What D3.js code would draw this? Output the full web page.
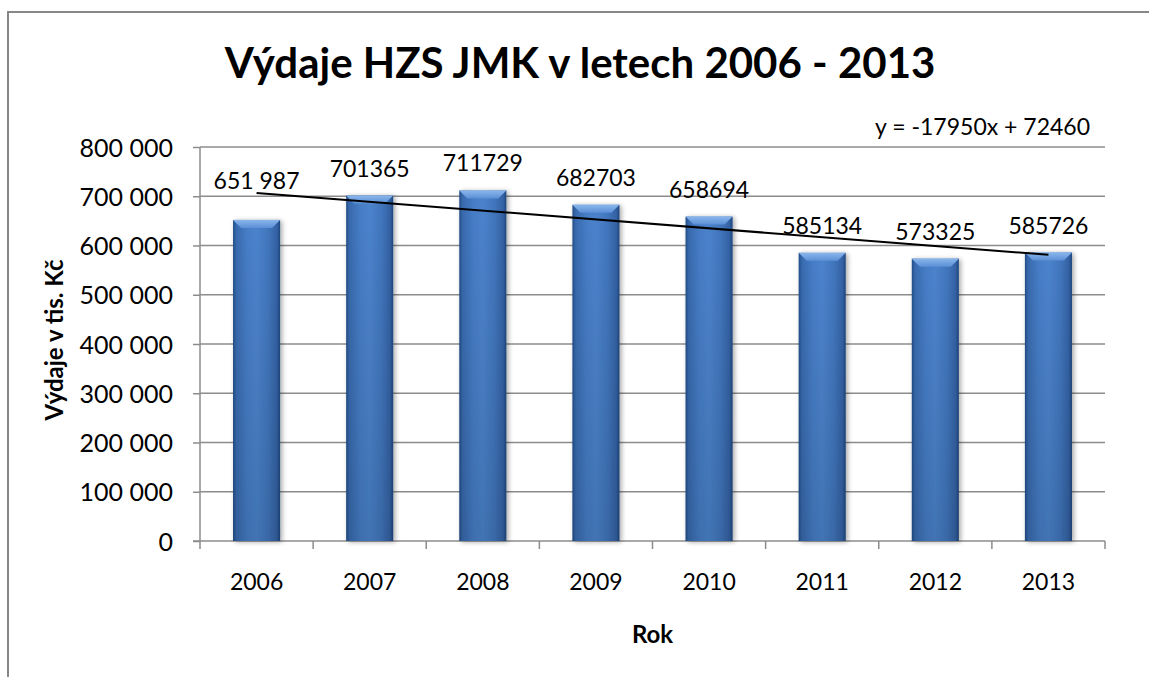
<!DOCTYPE html>
<html>
<head>
<meta charset="utf-8">
<script src="https://cdn.jsdelivr.net/npm/d3@7"></script>
<style>
  body { margin: 0; background: #fff; }
  text { font-family: Lato, "Open Sans", sans-serif; fill: #000; }
</style>
</head>
<body>
<div id="chart"></div>
<script>
// data
var years = ["2006", "2007", "2008", "2009", "2010", "2011", "2012", "2013"];
var spending = [651987, 701365, 711729, 682703, 658694, 585134, 573325, 585726];
var valueLabels = ["651 987", "701365", "711729", "682703", "658694", "585134", "573325", "585726"];
var yTicks = [0, 100000, 200000, 300000, 400000, 500000, 600000, 700000, 800000];
var trendText = "y = -17950x + 72460";

var svgWidth = 1149;
var svgHeight = 677;

var margin = { top: 147, right: 44, bottom: 136, left: 200 };
var width = 1105 - margin.left;
var height = 541 - margin.top;

var svg = d3.select("#chart")
  .append("svg")
  .attr("width", svgWidth)
  .attr("height", svgHeight);

var defs = svg.append("defs");

// horizontal shading of the bars
var barGrad = defs.append("linearGradient")
  .attr("id", "barGrad")
  .attr("x1", "0").attr("x2", "1").attr("y1", "0").attr("y2", "0");
[[0, "#224d88"], [0.07, "#386aae"], [0.3, "#467dc6"], [0.5, "#4b83cc"], [0.75, "#4176bd"], [0.93, "#3462a4"], [1, "#1f467e"]]
  .forEach(s => barGrad.append("stop").attr("offset", s[0]).attr("stop-color", s[1]));

var topGrad = defs.append("linearGradient")
  .attr("id", "topGrad")
  .attr("x1", "0").attr("x2", "0").attr("y1", "0").attr("y2", "1");
topGrad.append("stop").attr("offset", 0).attr("stop-color", "#8ab6ec");
topGrad.append("stop").attr("offset", 1).attr("stop-color", "#5b8fd6");

var shadeGrad = defs.append("linearGradient")
  .attr("id", "shadeGrad")
  .attr("x1", "0").attr("x2", "0").attr("y1", "0").attr("y2", "1");
shadeGrad.append("stop").attr("offset", 0).attr("stop-color", "#000").attr("stop-opacity", 0);
shadeGrad.append("stop").attr("offset", 1).attr("stop-color", "#000").attr("stop-opacity", 0.12);

var shadow = defs.append("filter").attr("id", "shadow")
  .attr("x", "-20%").attr("y", "-5%").attr("width", "150%").attr("height", "115%");
shadow.append("feGaussianBlur").attr("in", "SourceAlpha").attr("stdDeviation", 2.5);
shadow.append("feOffset").attr("dx", 2).attr("dy", 1).attr("result", "blur");
shadow.append("feComponentTransfer").append("feFuncA").attr("type", "linear").attr("slope", 0.35);
var merge = shadow.append("feMerge");
merge.append("feMergeNode");
merge.append("feMergeNode").attr("in", "SourceGraphic");

// outer chart frame
svg.append("rect")
  .attr("x", 8).attr("y", 12)
  .attr("width", 1200).attr("height", 720)
  .attr("fill", "none")
  .attr("stroke", "#878787")
  .attr("stroke-width", 2);

var chartGroup = svg.append("g")
  .attr("transform", `translate(${margin.left}, ${margin.top})`);

var xScale = d3.scaleBand()
  .domain(years)
  .range([0, width])
  .paddingInner(0.584)
  .paddingOuter(0.292);

var yScale = d3.scaleLinear()
  .domain([0, 800000])
  .range([height, 0]);

// gridlines
chartGroup.append("g")
  .selectAll("line")
  .data(yTicks.slice(1))
  .enter()
  .append("line")
  .attr("x1", 0).attr("x2", width)
  .attr("y1", d => yScale(d)).attr("y2", d => yScale(d))
  .attr("stroke", "#8c8c8c")
  .attr("stroke-width", 1.5);

// y axis
var fmt = d => d3.format(",")(d).replace(/,/g, " ");
var leftAxis = d3.axisLeft(yScale)
  .tickValues(yTicks)
  .tickFormat(fmt)
  .tickSize(7)
  .tickPadding(20);
var yAxis = chartGroup.append("g").call(leftAxis);
yAxis.select(".domain").attr("stroke", "#8c8c8c").attr("stroke-width", 1.5).attr("d", `M0,0V${height}`);
yAxis.selectAll(".tick line").attr("stroke", "#8c8c8c").attr("stroke-width", 1.5);
yAxis.selectAll(".tick text").style("font-size", "25px").attr("fill", "#000").attr("dy", "0.36em");

// x axis, ticks between categories
var step = xScale.step();
var bounds = d3.range(years.length + 1).map(i => i * step);
var xAxisG = chartGroup.append("g").attr("transform", `translate(0, ${height})`);
xAxisG.append("line")
  .attr("x1", -7).attr("x2", width)
  .attr("stroke", "#8c8c8c").attr("stroke-width", 1.5);
xAxisG.selectAll(".xtick")
  .data(bounds)
  .enter()
  .append("line")
  .attr("class", "xtick")
  .attr("x1", d => d).attr("x2", d => d)
  .attr("y1", 0).attr("y2", 8)
  .attr("stroke", "#8c8c8c").attr("stroke-width", 1.5);
xAxisG.selectAll(".xlabel")
  .data(years)
  .enter()
  .append("text")
  .attr("class", "xlabel")
  .attr("x", d => xScale(d) + xScale.bandwidth() / 2)
  .attr("y", 49)
  .attr("text-anchor", "middle")
  .style("font-size", "23px")
  .text(d => d);

// bars
var bars = chartGroup.selectAll(".bar")
  .data(years.map((y, i) => ({ year: y, value: spending[i], label: valueLabels[i] })))
  .enter()
  .append("g")
  .attr("class", "bar")
  .attr("filter", "url(#shadow)");

var bw = xScale.bandwidth();
var bev = 8;

bars.append("rect")
  .attr("x", d => xScale(d.year))
  .attr("y", d => yScale(d.value))
  .attr("width", bw)
  .attr("height", d => height - yScale(d.value))
  .attr("fill", "url(#barGrad)");

bars.append("rect")
  .attr("x", d => xScale(d.year))
  .attr("y", d => yScale(d.value))
  .attr("width", bw)
  .attr("height", d => height - yScale(d.value))
  .attr("fill", "url(#shadeGrad)");

// bevelled top
bars.append("path")
  .attr("d", d => {
    var x0 = xScale(d.year), y0 = yScale(d.value);
    return `M${x0},${y0}H${x0 + bw}L${x0 + bw - bev},${y0 + bev}H${x0 + bev}Z`;
  })
  .attr("fill", "url(#topGrad)");

// value labels
chartGroup.selectAll(".vlabel")
  .data(years.map((y, i) => ({ year: y, value: spending[i], label: valueLabels[i], i: i })))
  .enter()
  .append("text")
  .attr("class", "vlabel")
  .attr("x", d => xScale(d.year) + bw / 2)
  .attr("y", d => yScale(d.value) - (d.i === 0 ? 31 : 19))
  .attr("text-anchor", "middle")
  .style("font-size", "23px")
  .text(d => d.label);

// linear trend (least squares over the bars)
var xs = d3.range(1, years.length + 1);
var mx = d3.mean(xs), my = d3.mean(spending);
var slope = d3.sum(xs, (x, i) => (x - mx) * (spending[i] - my)) / d3.sum(xs, x => (x - mx) * (x - mx));
var intercept = my - slope * mx;
var trendLine = d3.line()
  .x(d => xScale(years[d - 1]) + bw / 2)
  .y(d => yScale(slope * d + intercept));
chartGroup.append("path")
  .datum([1, years.length])
  .attr("d", trendLine)
  .attr("fill", "none")
  .attr("stroke", "#000")
  .attr("stroke-width", 2);

chartGroup.append("text")
  .attr("x", 890)
  .attr("y", -12)
  .attr("text-anchor", "end")
  .style("font-size", "23px")
  .text(trendText);

// titles
svg.append("text")
  .attr("x", 580)
  .attr("y", 78)
  .attr("text-anchor", "middle")
  .style("font-size", "42px")
  .style("font-weight", "bold")
  .text("Výdaje HZS JMK v letech 2006 - 2013");

svg.append("text")
  .attr("transform", "rotate(-90)")
  .attr("x", -340)
  .attr("y", 63)
  .attr("text-anchor", "middle")
  .style("font-size", "24px")
  .style("font-weight", "bold")
  .text("Výdaje v tis. Kč");

svg.append("text")
  .attr("x", margin.left + width / 2)
  .attr("y", 643)
  .attr("text-anchor", "middle")
  .style("font-size", "24px")
  .style("font-weight", "bold")
  .text("Rok");
</script>
</body>
</html>
